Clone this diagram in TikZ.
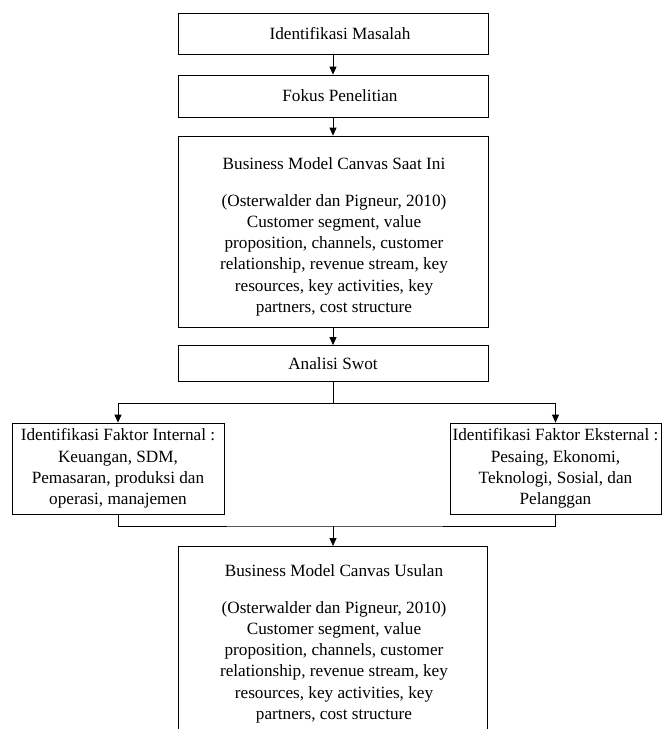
\documentclass[tikz,border=0pt]{standalone}
\usepackage{fontspec}
\setmainfont{Liberation Serif}
\usetikzlibrary{arrows.meta}
\newcommand{\txtfont}{\fontsize{17.2}{21.3}\selectfont}
\begin{document}
\begin{tikzpicture}[x=1pt,y=-1pt,
  box/.style={draw, line width=0.8pt, inner sep=0pt, align=center, font=\txtfont},
  txt/.style={inner sep=0pt, align=center, font=\txtfont},
  arr/.style={-{Triangle[length=8pt,width=7pt]}, line width=0.8pt},
  conn/.style={line width=0.8pt}]
\useasboundingbox (0,0) rectangle (662,729);
\clip (0,0) rectangle (662,729);
\fill[white] (0,0) rectangle (662,729);

\node[box, minimum width=310pt, minimum height=41pt] (b1) at (333,33.5) {\hspace*{14pt}Identifikasi Masalah};
\node[box, minimum width=310pt, minimum height=42pt] (b2) at (333,96) {\hspace*{14pt}Fokus Penelitian};
\node[box, minimum width=310pt, minimum height=191pt] (b3) at (333,231.5) {};
\node[txt, anchor=base] (t3) at (334,312.5) {Business Model Canvas Saat Ini\\[15.7pt]
(Osterwalder dan Pigneur, 2010)\\
Customer segment, value\\
proposition, channels, customer\\
relationship, revenue stream, key\\
resources, key activities, key\\
partners, cost structure};
\node[box, minimum width=310pt, minimum height=36pt] (b4) at (333,363.5) {Analisi Swot};
\node[box, minimum width=212pt, minimum height=91pt] (L) at (118,468.5) {Identifikasi Faktor Internal :\\
Keuangan, SDM,\\
Pemasaran, produksi dan\\
operasi, manajemen};
\node[box, minimum width=211pt, minimum height=91pt] (R) at (555.5,468.5) {Identifikasi Faktor Eksternal :\\
Pesaing, Ekonomi,\\
Teknologi, Sosial, dan\\
Pelanggan};
\node[box, minimum width=309pt, minimum height=220pt, anchor=north] (b5) at (333,546) {};
\node[txt, anchor=base] (t5) at (334,719.5) {Business Model Canvas Usulan\\[15.7pt]
(Osterwalder dan Pigneur, 2010)\\
Customer segment, value\\
proposition, channels, customer\\
relationship, revenue stream, key\\
resources, key activities, key\\
partners, cost structure};

\coordinate (split) at (333,403);
\coordinate (merge) at (333,526);

\draw[arr] (b1) -- (b2);
\draw[arr] (b2) -- (b3);
\draw[arr] (b3) -- (b4);
\draw[conn] (b4.south) -- (split);
\draw[arr] (split) -| (L.north);
\draw[arr] (split) -| (R.north);
\draw[conn] (L.south) |- (merge) -| (R.south);
\draw[arr] (merge) -- (b5.north);
\end{tikzpicture}
\end{document}
